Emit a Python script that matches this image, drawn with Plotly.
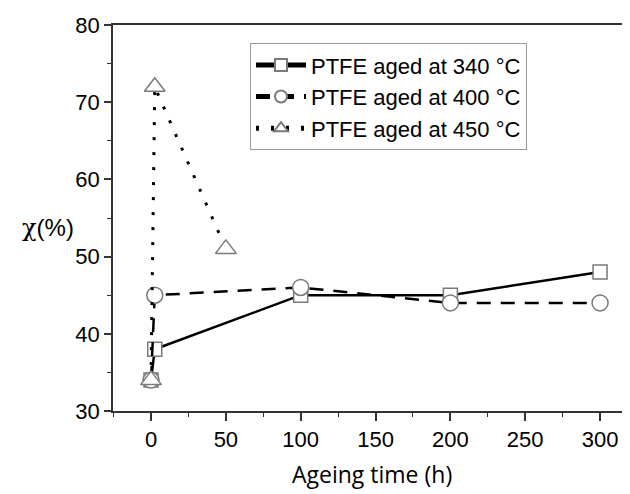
import plotly.graph_objects as go

# Data
t_340 = [0, 2.5, 100, 200, 300]
chi_340 = [34, 38, 45, 45, 48]

t_400 = [0, 2.5, 100, 200, 300]
chi_400 = [34, 45, 46, 44, 44]

t_450 = [0, 2.5, 50]
chi_450 = [34, 72, 51]

names = ["PTFE aged at 340 °C", "PTFE aged at 400 °C", "PTFE aged at 450 °C"]
x_ticks = [0, 50, 100, 150, 200, 250, 300]
y_ticks = [30, 40, 50, 60, 70, 80]

FONT = "Liberation Sans, Arial, sans-serif"
MLINE = dict(color="#7a7a7a", width=1.5)

fig = go.Figure()
fig.add_trace(go.Scatter(
    x=t_340, y=chi_340, name=names[0], mode="lines+markers",
    line=dict(color="black", width=2.5, dash="solid"),
    marker=dict(symbol="square", size=14, color="white", line=MLINE),
))
fig.add_trace(go.Scatter(
    x=t_400, y=chi_400, name=names[1], mode="lines+markers",
    line=dict(color="black", width=2.5, dash="14px,10px"),
    marker=dict(symbol="circle", size=16, color="white", line=MLINE),
))
fig.add_trace(go.Scatter(
    x=t_450, y=chi_450, name=names[2], mode="lines+markers",
    line=dict(color="black", width=3, dash="3px,12px"),
    marker=dict(symbol="triangle-up", size=18, color="white", line=MLINE),
))

# The page body has an 8px margin, so the figure is offset by 8px; compensate.
fig.update_layout(
    width=622, height=486,
    margin=dict(l=105, r=0, t=17, b=83),
    plot_bgcolor="white", paper_bgcolor="white",
    font=dict(family=FONT, size=22, color="black"),
    showlegend=True,
    legend=dict(
        x=0.265, y=0.953, xanchor="left", yanchor="top",
        bordercolor="#9a9a9a", borderwidth=1, bgcolor="white",
        font=dict(family=FONT, size=22, color="black"),
        tracegroupgap=0, itemsizing="constant", itemwidth=50,
    ),
    xaxis=dict(
        range=[-25.4, 320], tickvals=x_ticks, ticktext=[str(v) for v in x_ticks],
        showline=True, linecolor="#333333", linewidth=1.5, mirror=True,
        ticks="outside", ticklen=8, tickwidth=1.5, tickcolor="#333333",
        minor=dict(dtick=25, tick0=0, ticks="outside", ticklen=4, tickwidth=1.2, tickcolor="#333333"),
        showgrid=False, zeroline=False,
        tickfont=dict(family=FONT, size=22, color="black"),
    ),
    yaxis=dict(
        range=[30, 80], tickvals=y_ticks, ticktext=[str(v) for v in y_ticks],
        showline=True, linecolor="#333333", linewidth=1.5,
        ticks="outside", ticklen=7, tickwidth=1.5, tickcolor="#333333",
        minor=dict(dtick=5, tick0=0, ticks="outside", ticklen=4, tickwidth=1.2, tickcolor="#333333"),
        showgrid=False, zeroline=False,
        tickfont=dict(family=FONT, size=22, color="black"),
    ),
    annotations=[
        dict(text="Ageing time (h)", xref="paper", yref="paper", x=0.501, y=-0.163,
             xanchor="center", yanchor="middle", showarrow=False,
             font=dict(family="Open Sans, sans-serif", size=23, color="black")),
        dict(text="<span style=\"font-family:'DejaVu Serif', serif\">χ</span>(%)",
             xref="paper", yref="paper", x=-0.125, y=0.474,
             xanchor="center", yanchor="middle", showarrow=False,
             font=dict(family=FONT, size=24, color="black")),
    ],
)

fig.write_html("out.html")
